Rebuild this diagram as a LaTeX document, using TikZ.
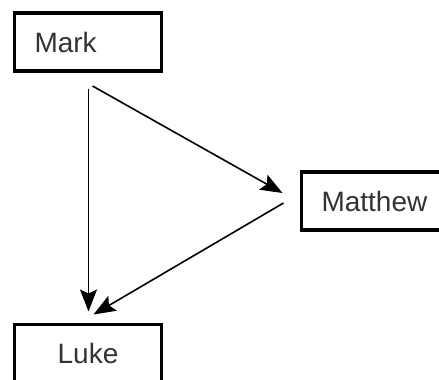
\documentclass[tikz,border=0pt]{standalone}
\usepackage{fontspec}
\setmainfont{Liberation Sans}
\usetikzlibrary{arrows.meta,positioning}
\tikzset{>=Stealth}

\begin{document}
\begin{tikzpicture}[
    x=1pt, y=-1pt,
    gospel/.style={rectangle, draw, line width=3.4pt, minimum height=58pt, inner xsep=20pt, inner ysep=0pt, outer sep=0pt, font=\fontsize{28}{30}\selectfont, text=black!80},
    arrow/.style={-{Stealth[length=22pt,width=17pt,inset=4pt]}, line width=1.6pt}
]
    \path[use as bounding box, clip] (0,0) rectangle (439,380);

    \node[gospel, anchor=west, text width=107pt, align=left] (mark) at (14.5,42) {Mark};
    \node[gospel, anchor=west] (matthew) at (301.5,201) {Matthew};
    \node[gospel, anchor=north, minimum width=147pt] (luke) at (mark.south |- 0,324.5) {Luke};

    % where the lines leave and reach the boxes
    \coordinate (mk-a) at ([shift={(0.5,18)}]mark.south);
    \coordinate (mk-b) at ([shift={(4.5,15)}]mark.south);
    \coordinate (mt-in) at ([shift={(-19,-8)}]matthew.west);
    \coordinate (mt-out) at ([shift={(-18,2)}]matthew.west);
    \coordinate (lk-a) at ([shift={(0.5,-13)}]luke.north);
    \coordinate (lk-b) at ([shift={(5.5,-10)}]luke.north);

    \draw[arrow] (mk-a) -- (lk-a);
    \draw[arrow] (mk-b) -- (mt-in);
    \draw[arrow] (mt-out) -- (lk-b);
\end{tikzpicture}
\end{document}
